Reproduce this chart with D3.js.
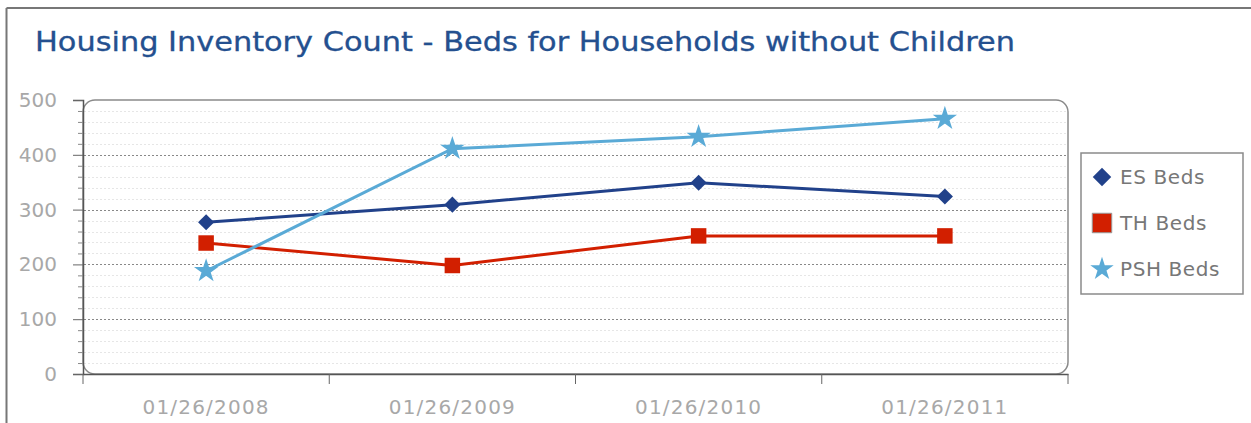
<!DOCTYPE html>
<html><head><meta charset="utf-8">
<script src="https://cdn.jsdelivr.net/npm/d3@7"></script>
<style>body{margin:0;background:#fff;}svg{display:block;}</style>
</head><body>
<svg id="c" width="1251" height="423"></svg>
<script>
const title = "Housing Inventory Count - Beds for Households without Children";
const categories = ["01/26/2008", "01/26/2009", "01/26/2010", "01/26/2011"];
const esBeds = [277, 309, 349, 324];
const thBeds = [239, 198, 252, 252];
const pshBeds = [188, 411, 433, 466];
const yTicks = [0, 100, 200, 300, 400, 500];
const seriesNames = ["ES Beds", "TH Beds", "PSH Beds"];

const series = [
  {name: seriesNames[0], values: esBeds, color: "#21418a", sym: "diamond"},
  {name: seriesNames[1], values: thBeds, color: "#d21f00", sym: "square"},
  {name: seriesNames[2], values: pshBeds, color: "#5aaad6", sym: "star"}
];

const svg = d3.select("#c");
const font = "DejaVu Sans, Verdana, sans-serif";

// outer frame
svg.append("line").attr("x1", 6.5).attr("x2", 1251).attr("y1", 8).attr("y2", 8).attr("stroke", "#777").attr("stroke-width", 2);
svg.append("line").attr("x1", 6.5).attr("x2", 6.5).attr("y1", 8).attr("y2", 423).attr("stroke", "#777").attr("stroke-width", 2);

// title
const t = svg.append("text").attr("x", 35).attr("y", 51).attr("fill", "#24508f")
  .attr("font-family", font).attr("font-size", 26).attr("stroke", "#24508f").attr("stroke-width", 0.3).text(title);
t.attr("textLength", 980).attr("lengthAdjust", "spacingAndGlyphs");

const L = 83, R = 1068, T = 100, B = 374;
const x = d3.scaleBand().domain(categories).range([L, R]);
const y = d3.scaleLinear().domain([0, 500]).range([B, T]);

// plot box
svg.append("rect").attr("x", L).attr("y", T).attr("width", R - L).attr("height", B - T)
  .attr("rx", 12).attr("ry", 12).attr("fill", "#fff").attr("stroke", "#8a8a8a").attr("stroke-width", 1.5);

// minor grid
const minor = d3.range(20, 500, 20).filter(v => v % 100 !== 0);
svg.append("g").selectAll("line").data(minor).join("line")
  .attr("x1", L + 1).attr("x2", R - 1).attr("y1", d => Math.round(y(d)) + 0.5).attr("y2", d => Math.round(y(d)) + 0.5)
  .attr("stroke", "#e6e6e6").attr("stroke-dasharray", "2,2");
// major grid
svg.append("g").selectAll("line").data(yTicks.filter(v => v > 0 && v < 500)).join("line")
  .attr("x1", L + 1).attr("x2", R - 1).attr("y1", d => Math.round(y(d)) + 0.5).attr("y2", d => Math.round(y(d)) + 0.5)
  .attr("stroke", "#888").attr("stroke-dasharray", "2,2");

// y axis
const yAxis = d3.axisLeft(y).tickValues(yTicks).tickSize(10).tickPadding(16);
const gy = svg.append("g").attr("transform", `translate(${L},0)`).call(yAxis);
gy.select(".domain").attr("stroke", "#555").attr("stroke-width", 1.5);
gy.selectAll(".tick line").attr("stroke", "#666");
gy.selectAll("text").attr("fill", "#a8a8a8").attr("font-family", font).attr("font-size", 20);
const yMinor = d3.axisLeft(y).tickValues(minor).tickSize(5).tickFormat("");
const gym = svg.append("g").attr("transform", `translate(${L},0)`).call(yMinor);
gym.select(".domain").remove();
gym.selectAll(".tick line").attr("stroke", "#888");

// x axis
const xAxis = d3.axisBottom(x).tickSize(0).tickPadding(26);
const gx = svg.append("g").attr("transform", `translate(0,${B})`).call(xAxis);
gx.select(".domain").attr("stroke", "#555").attr("stroke-width", 1.5);
gx.selectAll("text").attr("fill", "#a8a8a8").attr("font-family", font).attr("font-size", 20)
  .attr("letter-spacing", 1.2);
const bounds = categories.map(c => x(c)).concat([R]);
svg.append("g").selectAll("line").data(bounds).join("line")
  .attr("x1", d => d).attr("x2", d => d).attr("y1", B).attr("y2", B + 10)
  .attr("stroke", "#666");

// lines
const line = d3.line().x((d, i) => x(categories[i]) + x.bandwidth() / 2).y(d => y(d));
const symType = {diamond: d3.symbolSquare, square: d3.symbolSquare, star: d3.symbolStar};
const symSize = {diamond: 130, square: 240, star: 120};
const rot = {diamond: 45, square: 0, star: 0};
series.forEach(s => {
  svg.append("path").datum(s.values).attr("d", line).attr("fill", "none")
    .attr("stroke", s.color).attr("stroke-width", 3);
  svg.append("g").selectAll("path").data(s.values).join("path")
    .attr("transform", (d, i) => `translate(${x(categories[i]) + x.bandwidth() / 2},${y(d)}) rotate(${rot[s.sym]})`)
    .attr("d", d3.symbol().type(symType[s.sym]).size(symSize[s.sym]))
    .attr("fill", s.color).attr("stroke", s.color).attr("stroke-width", s.sym === "star" ? 1.5 : 0);
});

// legend
const lg = svg.append("g");
lg.append("rect").attr("x", 1081).attr("y", 153).attr("width", 162).attr("height", 141)
  .attr("fill", "#fff").attr("stroke", "#8a8a8a").attr("stroke-width", 1.5);
const legSize = {diamond: 170, square: 380, star: 170};
series.forEach((s, i) => {
  const cy = 177 + i * 46;
  lg.append("path").attr("transform", `translate(1102,${cy}) rotate(${rot[s.sym]})`)
    .attr("d", d3.symbol().type(symType[s.sym]).size(legSize[s.sym]))
    .attr("fill", s.color).attr("stroke", s.sym === "square" ? "#999" : "none");
  lg.append("text").attr("x", 1120).attr("y", cy + 7).attr("fill", "#777")
    .attr("font-family", font).attr("font-size", 20).attr("letter-spacing", 0.6).text(s.name);
});
</script>
</body></html>
